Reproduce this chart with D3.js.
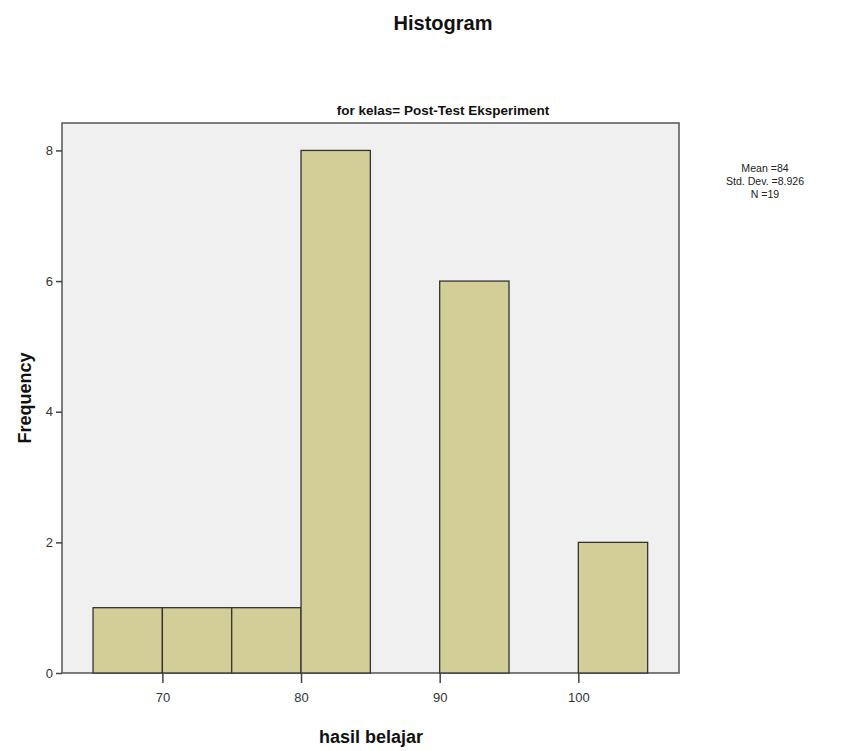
<!DOCTYPE html>
<html>
<head>
<meta charset="utf-8">
<script src="https://cdn.jsdelivr.net/npm/d3@7"></script>
<style>
  body { margin: 0; background: #fff; }
  text { font-family: "Liberation Sans", Arial, sans-serif; }
</style>
</head>
<body>
<div id="wrapper"></div>
<script>
// bins of "hasil belajar"
const binStarts = [65, 70, 75, 80, 85, 90, 95, 100]
const binWidth = 5
const counts = [1, 1, 1, 8, 0, 6, 0, 2]
const xTicks = [70, 80, 90, 100]
const yTicks = [0, 2, 4, 6, 8]
const statsLines = ["Mean =84", "Std. Dev. =8.926", "N =19"]

const width = 849
const height = 751
const plot = { left: 62, top: 123, right: 679, bottom: 673 }

const svg = d3.select("#wrapper")
  .append("svg")
    .attr("width", width)
    .attr("height", height)

const xScale = d3.scaleLinear()
  .domain([62.76, 107.26])
  .range([plot.left, plot.right])

const yScale = d3.scaleLinear()
  .domain([0, 8.42])
  .range([plot.bottom, plot.top])

// plot background
svg.append("rect")
  .attr("x", plot.left)
  .attr("y", plot.top)
  .attr("width", plot.right - plot.left)
  .attr("height", plot.bottom - plot.top)
  .attr("fill", "#f0f0f0")
  .attr("stroke", "#555")
  .attr("stroke-width", 1.5)

// bars
svg.append("g")
  .selectAll("rect")
  .data(binStarts.map((s, i) => ({ start: s, count: counts[i] })).filter(d => d.count > 0))
  .join("rect")
    .attr("x", d => xScale(d.start))
    .attr("width", d => xScale(d.start + binWidth) - xScale(d.start))
    .attr("y", d => yScale(d.count))
    .attr("height", d => yScale(0) - yScale(d.count))
    .attr("fill", "#d3ce97")
    .attr("stroke", "#333")
    .attr("stroke-width", 1.3)

// axes
const xAxis = svg.append("g")
  .attr("transform", `translate(0,${plot.bottom})`)
  .call(d3.axisBottom(xScale).tickValues(xTicks).tickSize(10).tickSizeOuter(0))
xAxis.select(".domain").remove()
xAxis.selectAll(".tick line").attr("stroke", "#444").attr("stroke-width", 1.5)
xAxis.selectAll(".tick text")
  .attr("font-size", 13)
  .attr("fill", "#333")
  .attr("dy", "1.2em")

const yAxis = svg.append("g")
  .attr("transform", `translate(${plot.left},0)`)
  .call(d3.axisLeft(yScale).tickValues(yTicks).tickSize(6).tickPadding(3).tickSizeOuter(0))
yAxis.select(".domain").remove()
yAxis.selectAll(".tick line").attr("stroke", "#444").attr("stroke-width", 1.5)
yAxis.selectAll(".tick text")
  .attr("font-size", 13)
  .attr("fill", "#333")

// titles
svg.append("text")
  .attr("x", 443)
  .attr("y", 30)
  .attr("text-anchor", "middle")
  .attr("font-size", 20)
  .attr("font-weight", "bold")
  .attr("fill", "#111")
  .text("Histogram")

svg.append("text")
  .attr("x", 443)
  .attr("y", 115)
  .attr("text-anchor", "middle")
  .attr("font-size", 13.5)
  .attr("font-weight", "bold")
  .attr("fill", "#111")
  .text("for kelas= Post-Test Eksperiment")

svg.append("text")
  .attr("transform", "translate(31,398) rotate(-90)")
  .attr("text-anchor", "middle")
  .attr("font-size", 18)
  .attr("font-weight", "bold")
  .attr("fill", "#111")
  .text("Frequency")

svg.append("text")
  .attr("x", 371)
  .attr("y", 743)
  .attr("text-anchor", "middle")
  .attr("font-size", 18)
  .attr("font-weight", "bold")
  .attr("fill", "#111")
  .text("hasil belajar")

// stats, slightly condensed
svg.append("g")
  .attr("transform", "translate(765,0) scale(0.92,1)")
  .selectAll("text")
  .data(statsLines)
  .join("text")
    .attr("x", 0)
    .attr("y", (d, i) => 172 + i * 13)
    .attr("text-anchor", "middle")
    .attr("font-size", 11.5)
    .attr("fill", "#222")
    .text(d => d)
</script>
</body>
</html>
